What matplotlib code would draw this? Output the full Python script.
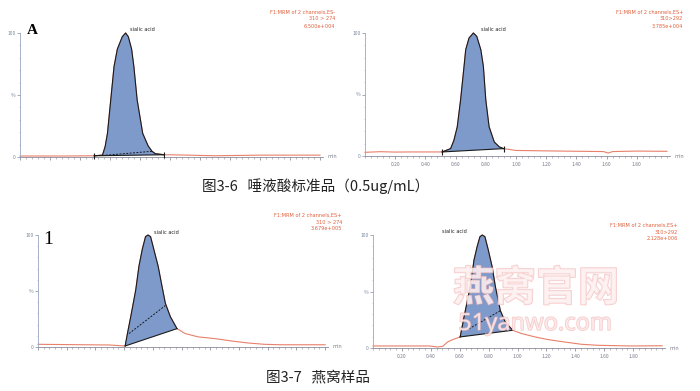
import matplotlib
matplotlib.use('Agg')
import matplotlib.pyplot as plt
import matplotlib.patheffects as pe
from matplotlib.ticker import MultipleLocator

plt.rcParams['font.family'] = ['Noto Sans CJK SC', 'DejaVu Sans']

# values: time (min) and relative intensity (%)
# top left: standard, 310 > 274
tl_t = [0, 0.30, 0.495, 0.55, 0.568, 0.583, 0.605, 0.627, 0.649, 0.682, 0.704, 0.722,
        0.744, 0.759, 0.781, 0.818, 0.854, 0.880, 0.902, 0.962, 1.0, 1.3, 1.6, 2.0]
tl_y = [0.8, 0.8, 1.0, 1.5, 8.6, 19, 46, 73, 87, 97, 100, 97,
        87, 73, 46, 19, 9, 4.6, 2.7, 1.8, 1.8, 1.0, 1.5, 1.5]
tl_peak = (2, 19)
tl_dash = [(0.55, 1.2), (0.88, 4.6)]

# top right: standard, 310 > 292
tr_t = [0, 0.1, 0.2, 0.3, 0.511, 0.567, 0.589, 0.611, 0.633, 0.656, 0.667, 0.689, 0.718,
        0.740, 0.767, 0.784, 0.800, 0.822, 0.856, 0.889, 0.918, 1.0, 1.3, 1.58, 1.61, 1.64, 1.8, 2.0]
tr_y = [3.0, 3.5, 3.2, 3.3, 3.3, 6, 12.8, 23.7, 45.5, 72.8, 86.4, 95.9, 100,
        97.3, 86.4, 72.8, 45.5, 23.7, 11.4, 7.4, 6, 4.5, 4, 3.6, 2.4, 3.6, 4, 3.8]
tr_peak = (4, 20)
tr_dash = None

# bottom left: bird's nest sample, 310 > 274
bl_t = [0, 0.497, 0.607, 0.623, 0.646, 0.681, 0.703, 0.726, 0.749, 0.766, 0.784, 0.807,
        0.837, 0.864, 0.887, 0.922, 0.968, 1.025, 1.117, 1.232, 1.347, 1.462, 1.577, 1.692, 2.0]
bl_y = [2.4, 1.8, 0.9, 12, 27, 51, 72, 87, 98.5, 100, 98.5, 87,
        72, 54, 39, 27, 16.4, 12, 9, 7.5, 5.4, 3.6, 2.4, 2, 2]
bl_peak = (2, 16)
bl_dash = [(0.634, 12), (0.887, 37)]

# bottom right: bird's nest sample, 310 > 292
br_t = [0, 0.390, 0.447, 0.482, 0.516, 0.550, 0.603, 0.630, 0.653, 0.676, 0.699, 0.721,
        0.740, 0.756, 0.774, 0.797, 0.824, 0.847, 0.881, 0.915, 0.966, 1.030, 1.121, 1.212,
        1.326, 1.441, 1.555, 1.783, 2.0]
br_y = [1.8, 1.8, 0.9, 1.5, 5.3, 7.4, 9.8, 27.5, 42, 57, 78, 90,
        98.5, 100, 98.5, 87, 72, 54, 33, 23, 15.7, 12.7, 9.8, 7.4,
        5.3, 3.3, 2.4, 1.8, 2.0]
br_peak = (6, 20)
br_dash = [(0.664, 17), (0.881, 33)]

headers = [
    ["F1:MRM of 2 channels,ES-", "310 > 274", "6.500e+004"],
    ["F1:MRM of 2 channels,ES+", "310>292", "3.785e+004"],
    ["F1:MRM of 2 channels,ES+", "310 > 274", "3.679e+005"],
    ["F1:MRM of 2 channels,ES+", "310>292", "2.128e+006"],
]

red = '#e8806a'
blue = '#7e9acb'
W, H = 700, 391

fig = plt.figure(figsize=(7, 3.91), dpi=100)


def px_axes(x0, x1, y0, y1):
    # y0 = pixel row of 0 %, y1 = pixel row of 100 %
    return fig.add_axes([x0 / W, (H - y0) / H, (x1 - x0) / W, (y0 - y1) / H])


def panel(ax, t, y, peak, dash, head, hx, hy, labels, lab_xy, lab_ha, bars):
    ax.set_xlim(0, 2.02)
    ax.set_ylim(0, 100)
    ax.plot(t, y, color=red, lw=0.8, clip_on=False, zorder=2)
    a, b = peak
    px = t[a:b + 1]
    py = y[a:b + 1]
    ax.fill(px, py, facecolor=blue, edgecolor='none', zorder=3, clip_on=False)
    ax.plot(px, py, color='#1a1a1a', lw=0.8, zorder=4, clip_on=False)
    ax.plot([px[0], px[-1]], [py[0], py[-1]], color='#1a1a1a', lw=0.8, zorder=4, clip_on=False)
    if bars:
        ax.plot([px[0], px[-1]], [py[0], py[-1]], ls='none', marker='|', ms=4,
                mew=0.8, color='#1a1a1a', zorder=4, clip_on=False)
    if dash:
        ax.plot([dash[0][0], dash[1][0]], [dash[0][1], dash[1][1]], color='#1a1a1a',
                lw=0.7, ls=(0, (2, 1.5)), zorder=4)
    ax.text(lab_xy[0], lab_xy[1], 'sialic acid', fontsize=3.6, ha=lab_ha, va='center',
            family='DejaVu Sans', color='#222222')
    for sp in ['top', 'right']:
        ax.spines[sp].set_visible(False)
    ax.spines['left'].set_color('#9aa6c0')
    ax.spines['bottom'].set_color('#8a8a9a')
    ax.spines['left'].set_linewidth(0.6)
    ax.spines['bottom'].set_linewidth(0.6)
    ax.set_yticks([0, 50, 100])
    ax.set_yticklabels(['0', '%', '100'])
    ax.yaxis.set_minor_locator(MultipleLocator(10))
    ax.xaxis.set_major_locator(MultipleLocator(0.2))
    ax.xaxis.set_minor_locator(MultipleLocator(0.04))
    ax.tick_params(axis='y', which='major', length=2, width=0.5, labelsize=3.6,
                   colors='#7a8aa0', pad=1)
    ax.tick_params(axis='y', which='minor', length=1, width=0.4, colors='#9aa6c0')
    ax.tick_params(axis='x', which='major', length=2, width=0.5, labelsize=3.6,
                   colors='#7a7a8a', pad=2)
    ax.tick_params(axis='x', which='minor', length=1.2, width=0.4, colors='#8a8a9a')
    if labels:
        ax.set_xticks([0.2, 0.4, 0.6, 0.8, 1.0, 1.2, 1.4, 1.6, 1.8])
        ax.set_xticklabels(['0.20', '0.40', '0.60', '0.80', '1.00', '1.20', '1.40', '1.60', '1.80'])
    else:
        ax.set_xticklabels([])
    ax.text(1.015, 0, 'min', transform=ax.transAxes, fontsize=3.6, color='#7a7a8a',
            ha='left', va='center', family='DejaVu Sans')
    for i, line in enumerate(head):
        fig.text(hx / W, 1 - (hy + i * 7) / H, line, fontsize=3.6, color='#e0603c',
                 ha='right', va='center', family='DejaVu Sans')


ax1 = px_axes(20, 323, 157, 33)
panel(ax1, tl_t, tl_y, tl_peak, tl_dash, headers[0], 335, 12, False, (0.73, 103), 'left', True)
ax2 = px_axes(365, 670, 156, 33)
panel(ax2, tr_t, tr_y, tr_peak, tr_dash, headers[1], 683, 12, True, (0.77, 103), 'left', True)
ax3 = px_axes(38, 328, 347, 235)
panel(ax3, bl_t, bl_y, bl_peak, bl_dash, headers[2], 342, 215, False, (0.81, 102), 'left', False)
ax4 = px_axes(373, 665, 348, 235)
panel(ax4, br_t, br_y, br_peak, br_dash, headers[3], 678, 225, True, (0.48, 103), 'left', False)

# panel letters
fig.text(27 / W, 1 - 31 / H, 'A', fontsize=11, weight='bold', family='Liberation Serif',
         va='center', ha='left')
fig.text(43 / W, 1 - 239 / H, '1', fontsize=14, family='Liberation Serif',
         va='center', ha='left')

# captions
fig.text(316 / W, 1 - 186 / H, '图3-6   唾液酸标准品（0.5ug/mL）', fontsize=10.5,
         ha='center', va='center', color='#222222')
fig.text(318 / W, 1 - 377 / H, '图3-7   燕窝样品', fontsize=10.5,
         ha='center', va='center', color='#222222')

# watermark
wm = [pe.withStroke(linewidth=1.0, foreground='#f2b0b0')]
fig.text(536 / W, 1 - 289 / H, '燕窝官网', fontsize=30, weight='bold', ha='center',
         va='center', color='#fdf0f0', alpha=0.65, path_effects=wm, zorder=10)
fig.text(535 / W, 1 - 324 / H, '51yanwo.com', fontsize=17, weight='bold', ha='center',
         va='center', color='#fdf0f0', alpha=0.65, path_effects=wm, zorder=10,
         family=['Noto Sans', 'DejaVu Sans'])

fig.savefig('out.png', dpi=100)
